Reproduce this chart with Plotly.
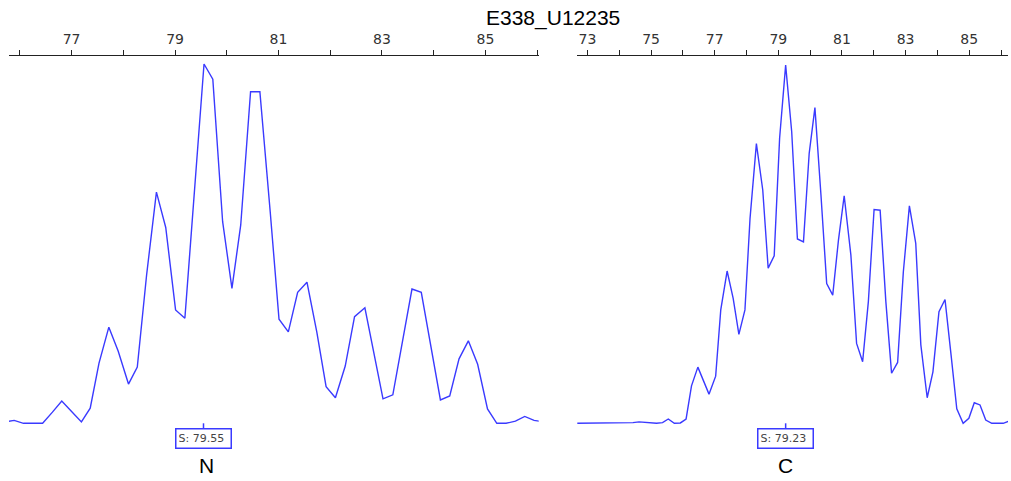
import plotly.graph_objects as go

# ---------------- data ----------------
title_text = "E338_U12235"
panel_names = ["N", "C"]
s_values = [79.55, 79.23]

n_temp = [75.70, 75.89, 76.07, 76.25, 76.44, 76.63, 76.81, 77.00, 77.19, 77.36,
          77.53, 77.72, 77.90, 78.10, 78.27, 78.45, 78.64, 78.82, 79.01, 79.19,
          79.36, 79.56, 79.73, 79.92, 80.10, 80.27, 80.46, 80.64, 80.84, 81.01,
          81.19, 81.37, 81.55, 81.74, 81.92, 82.10, 82.29, 82.47, 82.67, 82.84,
          83.02, 83.21, 83.40, 83.58, 83.76, 83.95, 84.13, 84.31, 84.49, 84.67,
          84.85, 85.04, 85.22, 85.40, 85.58, 85.76, 85.94, 86.13]
n_value = [0.4, 0.8, 0.0, 0.0, 0.0, 3.1, 6.2, 3.3, 0.4, 4.2,
           16.7, 26.7, 20.1, 10.9, 15.6, 41.2, 64.2, 54.4, 31.5, 29.2,
           62.0, 99.8, 95.6, 56.0, 37.5, 55.1, 92.1, 92.1, 58.7, 28.9,
           25.4, 36.4, 39.2, 25.4, 10.2, 7.1, 15.9, 29.6, 32.1, 19.6,
           6.8, 7.9, 22.6, 37.3, 36.4, 20.8, 6.5, 7.6, 17.9, 22.9,
           16.4, 4.0, 0.0, 0.0, 0.6, 1.9, 0.8, 0.4]

c_temp = [72.58, 72.76, 72.95, 73.14, 73.32, 73.51, 73.69, 73.88, 74.06, 74.25,
          74.43, 74.62, 74.80, 74.99, 75.17, 75.36, 75.54, 75.73, 75.92, 76.10,
          76.27, 76.47, 76.64, 76.82, 77.03, 77.19, 77.39, 77.58, 77.76, 77.95,
          78.11, 78.31, 78.51, 78.68, 78.87, 79.04, 79.23, 79.42, 79.60, 79.79,
          79.97, 80.15, 80.34, 80.52, 80.71, 80.89, 81.07, 81.28, 81.46, 81.65,
          81.83, 82.01, 82.20, 82.38, 82.56, 82.75, 82.93, 83.12, 83.32, 83.48,
          83.68, 83.86, 84.05, 84.24, 84.43, 84.61, 84.81, 84.99, 85.16, 85.34,
          85.52, 85.71, 85.89, 86.07, 86.26, 86.43]
c_value = [0.0, 0.0, 0.0, 0.0, 0.0, 0.0, 0.0, 0.0, 0.0, 0.0,
           0.2, 0.4, 0.3, 0.0, 0.0, 0.2, 1.2, 0.0, 0.1, 1.2,
           10.4, 15.6, 11.8, 8.1, 13.1, 31.5, 42.3, 34.7, 24.7, 31.5,
           56.9, 77.7, 64.8, 43.1, 46.5, 79.2, 99.5, 81.0, 51.2, 50.4,
           75.0, 87.7, 63.4, 38.8, 35.6, 50.9, 63.2, 46.8, 22.2, 17.1,
           33.8, 59.4, 59.2, 33.8, 13.9, 16.9, 42.1, 60.4, 50.0, 21.8,
           7.1, 14.3, 31.0, 34.4, 19.0, 4.0, 0.0, 1.4, 5.7, 5.1,
           0.9, 0.0, 0.0, 0.0, 0.6, 0.6]

n_ticks = [76, 77, 78, 79, 80, 81, 82, 83, 84, 85, 86]
n_ticklabels = ["", "77", "", "79", "", "81", "", "83", "", "85", ""]
c_ticks = [73, 74, 75, 76, 77, 78, 79, 80, 81, 82, 83, 84, 85, 86]
c_ticklabels = ["73", "", "75", "", "77", "", "79", "", "81", "", "83", "", "85", ""]

# ---------------- styling / layout ----------------
W, H = 1011, 481
BLUE = "#3a3aff"
PX_PER_UNIT = 3.6          # vertical pixels per intensity unit
BASE_PX = 423.3            # pixel row of intensity 0
TOP_PX = 56                # plot-area top
y_top = (BASE_PX - TOP_PX) / PX_PER_UNIT
y_bot = (BASE_PX - H) / PX_PER_UNIT


def yv(py):
    return (BASE_PX - py) / PX_PER_UNIT


fig = go.Figure()
fig.add_trace(go.Scatter(x=n_temp, y=n_value, mode="lines",
                         line=dict(color=BLUE, width=1.4),
                         xaxis="x", yaxis="y", showlegend=False,
                         hoverinfo="skip"))
fig.add_trace(go.Scatter(x=c_temp, y=c_value, mode="lines",
                         line=dict(color=BLUE, width=1.4),
                         xaxis="x2", yaxis="y2", showlegend=False,
                         hoverinfo="skip"))

axis_common = dict(side="top", showline=True, linecolor="#222", linewidth=1.2,
                   ticks="outside", ticklen=5, tickwidth=1, tickcolor="#222",
                   showgrid=False, zeroline=False,
                   tickfont=dict(family="DejaVu Sans", size=14, color="#333"),
                   fixedrange=True)

fig.update_layout(
    width=W, height=H,
    margin=dict(l=0, r=0, t=TOP_PX, b=0),
    paper_bgcolor="white", plot_bgcolor="white",
    xaxis=dict(domain=[9 / W, 538.7 / W], range=[75.79, 86.03],
               tickmode="array", tickvals=n_ticks, ticktext=n_ticklabels,
               anchor="y", **axis_common),
    xaxis2=dict(domain=[577.3 / W, 1008 / W], range=[72.68, 86.22],
                tickmode="array", tickvals=c_ticks, ticktext=c_ticklabels,
                anchor="y2", **axis_common),
    yaxis=dict(domain=[0, 1], range=[y_bot, y_top], visible=False,
               anchor="x", fixedrange=True),
    yaxis2=dict(domain=[0, 1], range=[y_bot, y_top], visible=False,
                anchor="x2", fixedrange=True),
    showlegend=False,
)

annotations = []
shapes = []
label_shift = [3, 0]
for i, (xr, yr) in enumerate([("x", "y"), ("x2", "y2")]):
    s = s_values[i]
    shapes.append(dict(type="line", xref=xr, yref=yr, x0=s, x1=s,
                       y0=0, y1=yv(428.5),
                       line=dict(color=BLUE, width=1.5)))
    annotations.append(dict(xref=xr, yref=yr, x=s, y=yv(438),
                            text=f"S: {s:.2f}", showarrow=False,
                            xanchor="center", yanchor="middle",
                            align="left", width=50, height=14,
                            borderpad=2, bordercolor=BLUE, borderwidth=1.5,
                            bgcolor="white",
                            font=dict(family="DejaVu Sans", size=11,
                                      color="#444")))
    annotations.append(dict(xref=xr, yref=yr, x=s, y=yv(465.5),
                            text=panel_names[i], showarrow=False,
                            xanchor="center", yanchor="middle",
                            xshift=label_shift[i],
                            font=dict(family="Liberation Sans", size=21,
                                      color="black")))

annotations.append(dict(xref="paper", yref="paper", x=553 / W,
                        y=1 + (TOP_PX - 18) / (H - TOP_PX),
                        text=title_text, showarrow=False,
                        xanchor="center", yanchor="middle",
                        font=dict(family="Liberation Sans", size=21,
                                  color="black")))

fig.update_layout(annotations=annotations, shapes=shapes)
fig.write_html("out.html",
               config={"displayModeBar": False},
               post_script="document.body.style.margin='0';"
                           "document.body.style.overflow='hidden';")
